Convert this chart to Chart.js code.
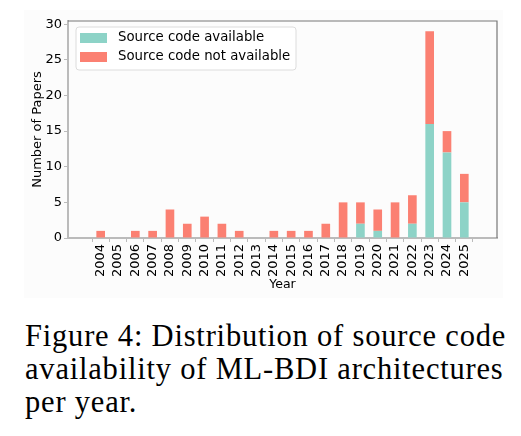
<!DOCTYPE html>
<html>
<head>
<meta charset="utf-8">
<script src="https://cdn.jsdelivr.net/npm/chart.js@4.4.1/dist/chart.umd.min.js"></script>
<style>
  body { margin: 0; background: #fff; }
  #fig { position: absolute; left: 24px; top: 10px; width: 479px; height: 288px; background: #fcfcfc; }
  #caption {
    position: absolute; left: 25px; top: 320px; width: 496px;
    font-family: "Liberation Serif", "Times New Roman", serif;
    font-size: 30.5px; line-height: 33px; letter-spacing: 0.8px; color: #000; white-space: nowrap;
  }
</style>
</head>
<body>
<div id="fig"><canvas id="chartContainer" width="479" height="288"></canvas></div>
<div id="caption">Figure 4: Distribution of source code<br>availability of ML-BDI architectures<br>per year.</div>
<script>
"use strict";

// 1: data
const years = [2004, 2005, 2006, 2007, 2008, 2009, 2010, 2011, 2012, 2013, 2014,
  2015, 2016, 2017, 2018, 2019, 2020, 2021, 2022, 2023, 2024, 2025];
const available = [0, 0, 0, 0, 0, 0, 0, 0, 0, 0, 0, 0, 0, 0, 0, 2, 1, 0, 2, 16, 12, 5];
const notAvailable = [1, 0, 1, 1, 4, 2, 3, 2, 1, 0, 1, 1, 1, 2, 5, 3, 3, 5, 4, 13, 3, 4];
const yTicks = [0, 5, 10, 15, 20, 25, 30];

const FONT = "'DejaVu Sans', sans-serif";

// legend drawn inside the plot, upper left, like matplotlib
const innerLegend = {
  id: 'innerLegend',
  afterDraw(chart) {
    const ctx = chart.ctx;
    const a = chart.chartArea;
    const x = a.left + 8, y = a.top + 6, w = 220, h = 43;
    ctx.save();
    ctx.beginPath();
    ctx.roundRect(x, y, w, h, 3);
    ctx.fillStyle = 'rgba(255,255,255,0.8)';
    ctx.fill();
    ctx.strokeStyle = '#dcdcdc';
    ctx.lineWidth = 1;
    ctx.stroke();
    ctx.font = '13.3px ' + FONT;
    ctx.textBaseline = 'middle';
    chart.data.datasets.forEach((ds, i) => {
      const rowY = y + 6 + i * 19;
      ctx.fillStyle = ds.backgroundColor;
      ctx.fillRect(x + 4, rowY, 27, 10);
      ctx.fillStyle = '#000';
      ctx.fillText(ds.label, x + 42, rowY + 5);
    });
    ctx.restore();
  }
};

// top and right spines
const frame = {
  id: 'frame',
  afterDatasetsDraw(chart) {
    const ctx = chart.ctx;
    const a = chart.chartArea;
    ctx.save();
    ctx.strokeStyle = '#777';
    ctx.lineWidth = 1.2;
    ctx.beginPath();
    ctx.moveTo(a.left, a.top);
    ctx.lineTo(a.right, a.top);
    ctx.lineTo(a.right, a.bottom);
    ctx.stroke();
    ctx.restore();
  }
};

function appendChart() {
  const chartContainer = document.getElementById('chartContainer');
  new Chart(chartContainer, {
    type: 'bar',
    data: {
      labels: years,
      datasets: [{
        label: 'Source code available',
        data: available,
        backgroundColor: '#8dd3c7'
      },
      {
        label: 'Source code not available',
        data: notAvailable,
        backgroundColor: '#fb8072'
      }]
    },
    options: {
      responsive: false,
      animation: false,
      devicePixelRatio: 1,
      barPercentage: 0.5,
      categoryPercentage: 1,
      layout: { padding: { top: 11, right: 6, left: 0, bottom: 0 } },
      plugins: {
        legend: { display: false },
        tooltip: { enabled: false }
      },
      scales: {
        x: {
          type: 'linear',
          stacked: true,
          min: 2002.675,
          max: 2026.325,
          afterFit: s => { s.height = 60; },
          afterBuildTicks: s => { s.ticks = years.map(v => ({ value: v })); },
          grid: { drawOnChartArea: false, tickLength: 4, color: '#bbb', lineWidth: 1 },
          border: { color: '#bbb', width: 2 },
          ticks: {
            autoSkip: false, minRotation: 90, maxRotation: 90, padding: 2,
            color: '#000', font: { family: FONT, size: 13 },
            callback: v => String(v)
          },
          title: {
            display: true, text: 'Year', color: '#000',
            font: { family: FONT, size: 12.5 }, padding: { top: 0, bottom: 6 }
          }
        },
        y: {
          stacked: true,
          min: 0,
          max: 30.45,
          afterFit: s => { s.width = 44; },
          afterBuildTicks: s => { s.ticks = yTicks.map(v => ({ value: v })); },
          grid: { drawOnChartArea: false, tickLength: 4, color: '#bbb', lineWidth: 1 },
          border: { color: '#bbb', width: 2 },
          ticks: {
            padding: 2, color: '#000', font: { family: FONT, size: 13 }
          },
          title: {
            display: true, text: 'Number of Papers', color: '#000',
            font: { family: FONT, size: 13 }, padding: { top: 6, bottom: 0 }
          }
        }
      }
    },
    plugins: [innerLegend, frame]
  });
}

appendChart();
</script>
</body>
</html>
